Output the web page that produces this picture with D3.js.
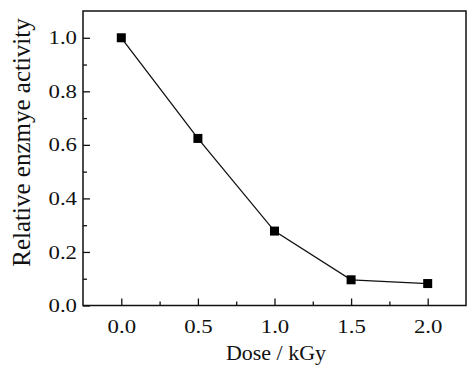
<!DOCTYPE html>
<html>
<head>
<meta charset="utf-8">
<script src="https://cdn.jsdelivr.net/npm/d3@7"></script>
<style>
  body { margin: 0; background: #fff; }
  svg text { font-family: "Liberation Serif", "Times New Roman", serif; fill: #111; }
</style>
</head>
<body>
<svg id="chart" width="467" height="365"></svg>
<script>
const doses = [0.0, 0.5, 1.0, 1.5, 2.0];
const activity = [1.0, 0.624, 0.278, 0.096, 0.082];
const xTicks = [0.0, 0.5, 1.0, 1.5, 2.0];
const yTicks = [0.0, 0.2, 0.4, 0.6, 0.8, 1.0];

const margin = {top: 11, right: 1, bottom: 60, left: 83};
const width = 467, height = 365;

const svg = d3.select('#chart');

const x = d3.scaleLinear()
  .domain([-0.25, 2.25])
  .range([margin.left, width - margin.right]);

const y = d3.scaleLinear()
  .domain([0, 1.1])
  .range([height - margin.bottom + 0.5, margin.top]);

const isMajor = (list, d) => list.some(t => Math.abs(t - d) < 1e-9);

// frame
svg.append('rect')
  .attr('x', margin.left).attr('y', margin.top)
  .attr('width', width - margin.right - margin.left)
  .attr('height', y(0) - margin.top)
  .attr('fill', 'none').attr('stroke', '#111').attr('stroke-width', 1.5);

// x axis, ticks inward
const gx = svg.append('g')
  .attr('transform', `translate(0,${y(0)})`)
  .call(d3.axisBottom(x).tickValues(d3.range(0, 2.01, 0.25)).tickSize(-7).tickSizeOuter(0)
    .tickFormat(d => isMajor(xTicks, d) ? d3.format('.1f')(d) : ''));
gx.select('.domain').remove();
gx.selectAll('.tick line').attr('stroke', '#111').attr('stroke-width', 1.3)
  .attr('y2', d => isMajor(xTicks, d) ? -7 : -4);
gx.selectAll('.tick text').attr('y', 27.5).attr('dy', 0).attr('x', 0)
  .style('font-size', '19px').attr('transform', 'scale(1.2,1)');

// y axis, ticks inward
const gy = svg.append('g')
  .attr('transform', `translate(${margin.left},0)`)
  .call(d3.axisLeft(y).tickValues(d3.range(0, 1.01, 0.1)).tickSize(-7).tickSizeOuter(0)
    .tickFormat(d => isMajor(yTicks, d) ? d3.format('.1f')(d) : ''));
gy.select('.domain').remove();
gy.selectAll('.tick line').attr('stroke', '#111').attr('stroke-width', 1.3)
  .attr('x2', d => isMajor(yTicks, d) ? 7 : 4);
gy.selectAll('.tick text').attr('x', -5).style('font-size', '19px')
  .attr('transform', 'scale(1.2,1)');

// line
svg.append('path')
  .datum(doses.map((d, i) => [d, activity[i]]))
  .attr('fill', 'none').attr('stroke', '#111').attr('stroke-width', 1.3)
  .attr('d', d3.line().x(d => x(d[0])).y(d => y(d[1])));

// markers
svg.selectAll('rect.pt').data(doses)
  .join('rect').attr('class', 'pt')
  .attr('x', d => x(d) - 4.5)
  .attr('y', (d, i) => y(activity[i]) - 4.5)
  .attr('width', 9).attr('height', 9)
  .attr('fill', '#000');

// axis titles
svg.append('text')
  .attr('x', 276).attr('y', 360)
  .attr('text-anchor', 'middle').style('font-size', '22px')
  .text('Dose / kGy');

svg.append('text')
  .attr('transform', 'translate(30,142.5) rotate(-90)')
  .attr('text-anchor', 'middle').style('font-size', '25px')
  .text('Relative enzmye activity');
</script>
</body>
</html>
